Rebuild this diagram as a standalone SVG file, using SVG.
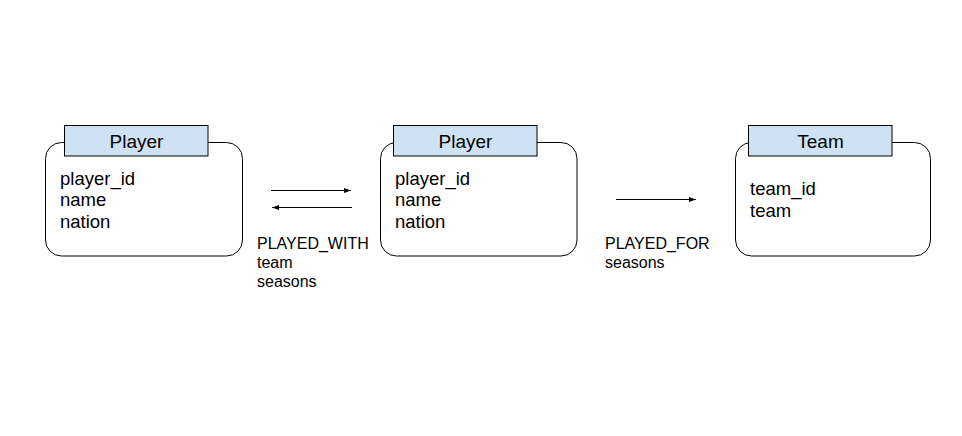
<svg xmlns="http://www.w3.org/2000/svg" width="962" height="436" viewBox="0 0 962 436">
<style>
.box{fill:#fff;stroke:#000;stroke-width:1}
.hdr{fill:#cfe2f3;stroke:#000;stroke-width:1}
.t{font-family:"Liberation Sans",Arial,sans-serif;font-size:18.5px;fill:#000}
.h{font-family:"Liberation Sans",Arial,sans-serif;font-size:19px;fill:#000;text-anchor:middle}
.l{font-family:"Liberation Sans",Arial,sans-serif;font-size:16px;fill:#000}
.c{stroke:#000;stroke-width:1;fill:none}
</style>
<defs>
<marker id="ah" viewBox="0 0 10 10" refX="10" refY="5" markerWidth="7" markerHeight="7" markerUnits="userSpaceOnUse" orient="auto">
<path d="M0,1.5 L10,5 L0,8.5 z" fill="#000"/>
</marker>
</defs>
<rect width="962" height="436" fill="#fff"/>
<g id="player1">
<rect class="box" x="45.5" y="142.5" width="197" height="113.5" rx="16"/>
<rect class="hdr" x="64.5" y="125.5" width="143.5" height="30.5"/>
<text class="h" x="136.5" y="148">Player</text>
<text class="t" x="60" y="185">player_id</text>
<text class="t" x="60" y="206">name</text>
<text class="t" x="60" y="228">nation</text>
</g>
<g id="player2">
<rect class="box" x="380.5" y="142.5" width="196.5" height="113.5" rx="16"/>
<rect class="hdr" x="393.5" y="125.5" width="143.5" height="30.5"/>
<text class="h" x="465.5" y="148">Player</text>
<text class="t" x="395" y="185">player_id</text>
<text class="t" x="395" y="206">name</text>
<text class="t" x="395" y="228">nation</text>
</g>
<g id="team">
<rect class="box" x="735.5" y="142.5" width="195" height="113.5" rx="16"/>
<rect class="hdr" x="748.5" y="125.5" width="143.5" height="30.5"/>
<text class="h" x="820.5" y="148">Team</text>
<text class="t" x="750" y="195">team_id</text>
<text class="t" x="750" y="217">team</text>
</g>
<g id="connectors">
<line class="c" x1="271" y1="190.5" x2="351" y2="190.5" marker-end="url(#ah)"/>
<line class="c" x1="352" y1="207.5" x2="272" y2="207.5" marker-end="url(#ah)"/>
<line class="c" x1="616" y1="199.5" x2="696" y2="199.5" marker-end="url(#ah)"/>
<text class="l" x="257" y="249">PLAYED_WITH</text>
<text class="l" x="257" y="268">team</text>
<text class="l" x="257" y="287">seasons</text>
<text class="l" x="605" y="249">PLAYED_FOR</text>
<text class="l" x="605" y="268">seasons</text>
</g>
</svg>
